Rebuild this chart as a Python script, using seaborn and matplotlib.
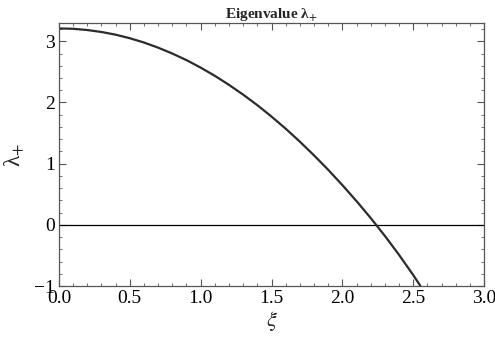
import numpy as np
import pandas as pd
import matplotlib
matplotlib.use("Agg")
import matplotlib.pyplot as plt
from matplotlib.ticker import MultipleLocator
import seaborn as sns

# Eigenvalue branch lambda_+ as a function of xi
xi = [0.0, 0.1, 0.2, 0.3, 0.4, 0.5, 0.6, 0.7, 0.8, 0.9, 1.0, 1.1, 1.2, 1.3,
      1.4, 1.5, 1.6, 1.7, 1.8, 1.9, 2.0, 2.1, 2.2, 2.3, 2.4, 2.5, 2.55]
lam_plus = [3.210, 3.204, 3.184, 3.152, 3.108, 3.050, 2.980, 2.896, 2.800,
            2.692, 2.570, 2.436, 2.288, 2.128, 1.956, 1.770, 1.572, 1.360,
            1.136, 0.900, 0.650, 0.388, 0.112, -0.180, -0.490, -0.820, -0.995]

x_ticks = [0.0, 0.5, 1.0, 1.5, 2.0, 2.5, 3.0]
y_ticks = [-1, 0, 1, 2, 3]

df = pd.DataFrame({"xi": xi, "lam": lam_plus})

sns.set_theme(style="ticks")
plt.rcParams["font.family"] = ["Liberation Serif", "DejaVu Serif"]
plt.rcParams["mathtext.fontset"] = "stix"

fig = plt.figure(figsize=(4.95, 3.37), dpi=100)
ax = fig.add_axes([0.119, 0.151, 0.859, 0.781])

ax.axhline(0, color="black", lw=0.9, zorder=1)
sns.lineplot(data=df, x="xi", y="lam", ax=ax, color="#2b2b2b", lw=1.6,
             sort=False, zorder=2)

ax.set_xlim(0, 3.0)
ax.set_ylim(-1, 3.3)
ax.set_xticks(x_ticks)
ax.set_xticklabels([f"{v:.1f}" for v in x_ticks])
ax.set_yticks(y_ticks)
ax.set_yticklabels([str(v).replace("-", "\u2212") for v in y_ticks])
ax.xaxis.set_minor_locator(MultipleLocator(0.1))
ax.yaxis.set_minor_locator(MultipleLocator(0.2))

ax.tick_params(which="both", direction="in", top=True, right=True,
               color="#555555", labelsize=14, labelcolor="black")
ax.tick_params(which="major", length=5, width=0.8)
ax.tick_params(which="minor", length=2.5, width=0.6)
ax.tick_params(axis="x", pad=3)
ax.tick_params(axis="y", pad=3)

for sp in ax.spines.values():
    sp.set_color("#555555")
    sp.set_linewidth(0.9)

ax.set_xlabel(r"$\xi$", fontsize=16, labelpad=1)
ax.set_ylabel("λ$_{+}$", fontsize=17, labelpad=6)
ax.set_title("Eigenvalue λ$_{\\mathbf{+}}$", fontsize=11, fontweight="bold", pad=3)

fig.savefig("out.png", dpi=100)
